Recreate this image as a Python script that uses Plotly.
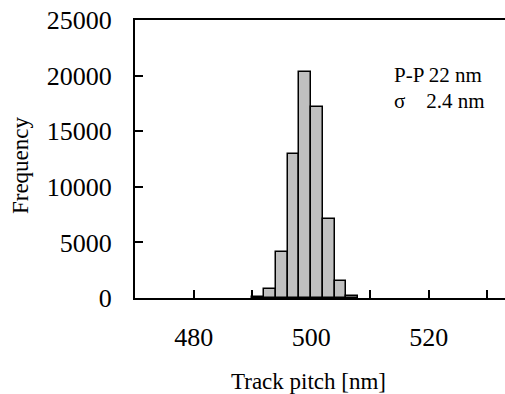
import plotly.graph_objects as go

bin_centers = [491, 493, 495, 497, 499, 501, 503, 505, 507]
frequency = [60, 780, 4170, 12960, 20280, 17160, 7080, 1560, 200]
bin_width = 2
y_ticks = [0, 5000, 10000, 15000, 20000, 25000]
y_tick_labels = ["0", "5000", "10000", "15000", "20000", "25000"]
x_ticks = [480, 500, 520]
x_tick_labels = ["480", "500", "520"]
x_title = "Track pitch [nm]"
y_title = "Frequency"
stats_lines = ["P-P 22 nm", "\u03c3\u00a0\u00a0\u00a0 2.4 nm"]

FONT = "Liberation Serif"

fig = go.Figure()
fig.add_trace(go.Bar(
    x=bin_centers, y=frequency, width=[bin_width] * len(bin_centers),
    marker=dict(color="#c0c0c0", line=dict(color="black", width=1.5)),
))

fig.update_layout(
    width=505, height=394,
    margin=dict(l=135, r=0, t=20, b=96),
    paper_bgcolor="white", plot_bgcolor="white",
    showlegend=False,
    font=dict(family=FONT, size=26, color="black"),
    bargap=0,
)
fig.update_xaxes(
    range=[470, 533], tickvals=x_ticks, ticktext=x_tick_labels,
    ticks="inside", ticklen=8, tickwidth=1.5,
    tickcolor="black", showline=True, linecolor="black", linewidth=2, mirror=True,
    showgrid=False, zeroline=False, layer="below traces",
    minor=dict(dtick=10, tick0=470, ticks="inside", ticklen=8, tickwidth=1.5, tickcolor="black", showgrid=False),
    ticklabelstandoff=15, tickfont=dict(size=26),
)
fig.update_yaxes(
    range=[0, 25000], tickvals=y_ticks, ticktext=y_tick_labels,
    ticks="inside", ticklen=8, tickwidth=1.5,
    tickcolor="black", showline=True, linecolor="black", linewidth=2, mirror=False,
    showgrid=False, zeroline=False, layer="below traces",
    ticklabelstandoff=16, tickfont=dict(size=26),
)

fig.add_annotation(xref="paper", yref="paper", x=0.4676, y=-0.302, text=x_title,
                   showarrow=False, xanchor="center", yanchor="middle", font=dict(size=23))
fig.add_annotation(xref="paper", yref="paper", x=-0.311, y=0.478, text=y_title,
                   textangle=-90, showarrow=False, xanchor="center", yanchor="middle",
                   font=dict(size=23))

fig.add_annotation(x=513.7, y=20050, text=stats_lines[0], showarrow=False,
                   xanchor="left", yanchor="middle", font=dict(size=21))
fig.add_annotation(x=513.7, y=17700, text=stats_lines[1], showarrow=False,
                   xanchor="left", yanchor="middle", font=dict(size=21))

fig.write_html("out.html")
